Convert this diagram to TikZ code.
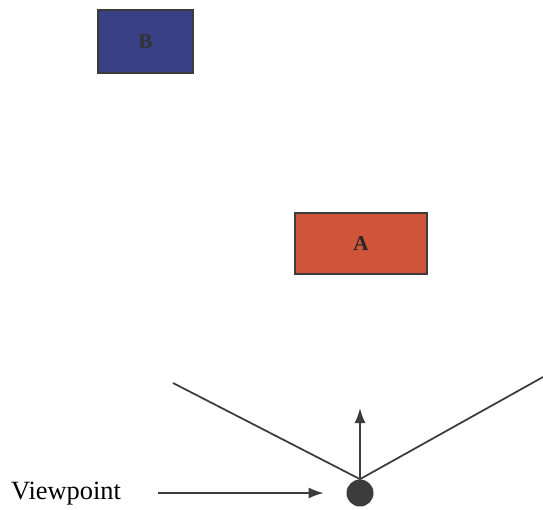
\documentclass[tikz,border=0pt]{standalone}
\usepackage{fontspec}
\setmainfont{Liberation Serif}
\definecolor{boxblue}{RGB}{58, 64, 132}
\definecolor{boxred}{RGB}{208, 84, 58}
\definecolor{edgegray}{RGB}{60, 60, 60}
\usetikzlibrary{arrows.meta, positioning}

\begin{document}
\begin{tikzpicture}[font=\small,
  objbox/.style={draw=edgegray, line width=0.9pt, inner sep=0pt},
  viewline/.style={edgegray, line width=1pt}]
  \useasboundingbox (0,0) rectangle (10.86,10.18);
  \node[objbox, fill=boxblue, minimum width=1.9cm, minimum height=1.26cm, font=\large\bfseries, text=black!80] (B) at (2.91,9.35) {B};
  \node[objbox, fill=boxred, minimum width=2.64cm, minimum height=1.22cm, font=\large\bfseries, text=black!85] (A) at (7.22,5.31) {A};
  \node[circle, fill=edgegray, minimum size=0.54cm, inner sep=0pt] (eye) at (7.2,0.32) {};
  \node[font=\fontsize{15}{17}\selectfont] (vp) at (1.32,0.30) {Viewpoint};
  \coordinate (fovL) at (3.46,2.52);
  \coordinate (fovR) at (10.86,2.64);
  \coordinate (gaze) at (7.2,2.02);
  % field of view
  \draw[viewline] (fovL) -- (eye.north) -- (fovR);
  \draw[viewline, -{Latex[length=3mm, width=2.2mm]}] (eye.north) -- (gaze);
  \draw[viewline, -{Latex[length=3mm, width=2.2mm]}, shorten >=0.45cm]
       ([xshift=0.62cm]vp.east |- eye) -- (eye.west);
\end{tikzpicture}
\end{document}
